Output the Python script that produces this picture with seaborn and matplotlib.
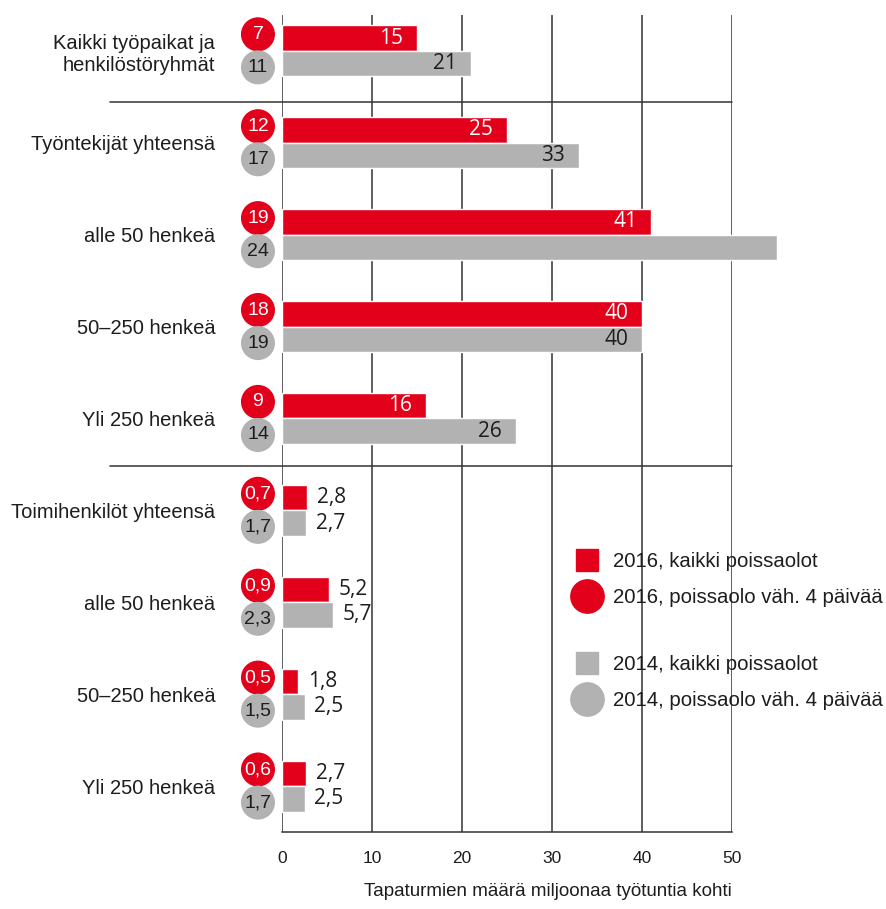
import numpy as np
import pandas as pd
import seaborn as sns
import matplotlib
matplotlib.use("Agg")
import matplotlib.pyplot as plt
from matplotlib.lines import Line2D

# ---- data ----
row_labels = ["Kaikki työpaikat ja\nhenkilöstöryhmät", "Työntekijät yhteensä", "alle 50 henkeä",
              "50–250 henkeä", "Yli 250 henkeä", "Toimihenkilöt yhteensä", "alle 50 henkeä",
              "50–250 henkeä", "Yli 250 henkeä"]
all_2016 = [15, 25, 41, 40, 16, 2.8, 5.2, 1.8, 2.7]
all_2014 = [21, 33, 55, 40, 26, 2.7, 5.7, 2.5, 2.5]
days4_2016 = [7, 12, 19, 18, 9, 0.7, 0.9, 0.5, 0.6]
days4_2014 = [11, 17, 24, 19, 14, 1.7, 2.3, 1.5, 1.7]
x_ticks = [0, 10, 20, 30, 40, 50]
series_names = ["2016, kaikki poissaolot", "2014, kaikki poissaolot"]
circle_names = ["2016, poissaolo väh. 4 päivää", "2014, poissaolo väh. 4 päivää"]
x_label = "Tapaturmien määrä miljoonaa työtuntia kohti"

RED = "#E2001A"
GRAY = "#B2B2B2"
LINE = "#333333"
TXT = "#1d1d1b"

sns.set_theme(style="white")
plt.rcParams["font.family"] = ["Liberation Sans", "DejaVu Sans"]
NARROW = ["Liberation Sans", "DejaVu Sans"]
REGULAR = ["Open Sans", "DejaVu Sans"]

def fmt(v):
    return f"{v:g}".replace(".", ",")

n = len(row_labels)
rows = list(range(n))
df = pd.DataFrame({
    "row": rows * 2,
    "value": all_2016 + all_2014,
    "series": [series_names[0]] * n + [series_names[1]] * n,
})

fig = plt.figure(figsize=(8.86, 9.09), dpi=100)
ax = fig.add_axes([282 / 886, 77 / 909, 450 / 886, 817 / 909])

sns.barplot(data=df, y="row", x="value", hue="series", orient="h",
            hue_order=series_names, palette=[RED, GRAY], saturation=1,
            width=0.555, legend=False, ax=ax, zorder=3)
for cont in ax.containers:
    for p in cont.patches:
        p.set_clip_on(False)

# circles (poissaolo väh. 4 päivää)
cx = -2.67
off = 0.18
circ_df = pd.DataFrame({
    "x": [cx] * (2 * n),
    "y": [r - off for r in rows] + [r + off for r in rows],
    "series": [circle_names[0]] * n + [circle_names[1]] * n,
})
sns.scatterplot(data=circ_df, x="x", y="y", hue="series", hue_order=circle_names,
                palette=[RED, GRAY], s=600, linewidth=0, legend=False,
                clip_on=False, ax=ax, zorder=5)
for r in rows:
    ax.text(cx, r - off, fmt(days4_2016[r]), color="white", ha="center", va="center",
            fontsize=14, family=NARROW, zorder=6, clip_on=False)
    ax.text(cx, r + off, fmt(days4_2014[r]), color=TXT, ha="center", va="center",
            fontsize=14, family=NARROW, zorder=6, clip_on=False)

# bar value labels
for ci, (cont, vals) in enumerate(zip(ax.containers, [all_2016, all_2014])):
    for bar, v in zip(cont.patches, vals):
        w = bar.get_width()
        yc = bar.get_y() + bar.get_height() / 2
        if v >= 10:
            ax.annotate(fmt(v), (w, yc), xytext=(-10, 0), textcoords="offset points",
                        ha="right", va="center", fontsize=15, family=REGULAR,
                        color="white" if ci == 0 else TXT, zorder=6)
        else:
            ax.annotate(fmt(v), (w, yc), xytext=(7, 0), textcoords="offset points",
                        ha="left", va="center", fontsize=15, family=REGULAR,
                        color=TXT, zorder=6)

ax.set_xlim(0, 50)
ax.set_ylim(8.5, -0.39)
ax.set_xticks(x_ticks)
ax.set_xticklabels([str(t) for t in x_ticks], fontsize=12.5, color=TXT)
ax.set_yticks(rows)
ax.set_yticklabels(row_labels, fontsize=14.5, color=TXT, ha="right")
ax.tick_params(axis="y", length=0, pad=48)
ax.tick_params(axis="x", length=0, pad=14)
ax.set_xlabel(x_label, fontsize=13.5, color=TXT, loc="right", labelpad=12)
ax.set_ylabel("")
ax.grid(axis="x", color=LINE, linewidth=1.1)
ax.grid(axis="y", visible=False)
ax.set_axisbelow(True)
for s in ["top", "right", "left"]:
    ax.spines[s].set_visible(False)
ax.spines["bottom"].set_color(LINE)
ax.spines["bottom"].set_linewidth(1.1)

# group separators
for ysep in [0.56, 4.52]:
    ax.axhline(ysep, xmin=-172 / 450, xmax=1, color=LINE, linewidth=1.1, clip_on=False, zorder=2)

# legends
h1 = [Line2D([], [], marker="s", color=RED, linestyle="none", markersize=16),
      Line2D([], [], marker="o", color=RED, linestyle="none", markersize=24)]
h2 = [Line2D([], [], marker="s", color=GRAY, linestyle="none", markersize=16),
      Line2D([], [], marker="o", color=GRAY, linestyle="none", markersize=24)]
leg_kw = dict(frameon=False, fontsize=14.7, handlelength=1.4, handletextpad=0.55,
              labelspacing=0.85, borderpad=0, borderaxespad=0, loc="upper left",
              labelcolor=TXT)
leg1 = fig.legend(h1, [series_names[0], circle_names[0]],
                  bbox_to_anchor=(573 / 886, 1 - 552 / 909), **leg_kw)
leg2 = fig.legend(h2, [series_names[1], circle_names[1]],
                  bbox_to_anchor=(573 / 886, 1 - 655 / 909), **leg_kw)

fig.savefig("out.png", dpi=100)
